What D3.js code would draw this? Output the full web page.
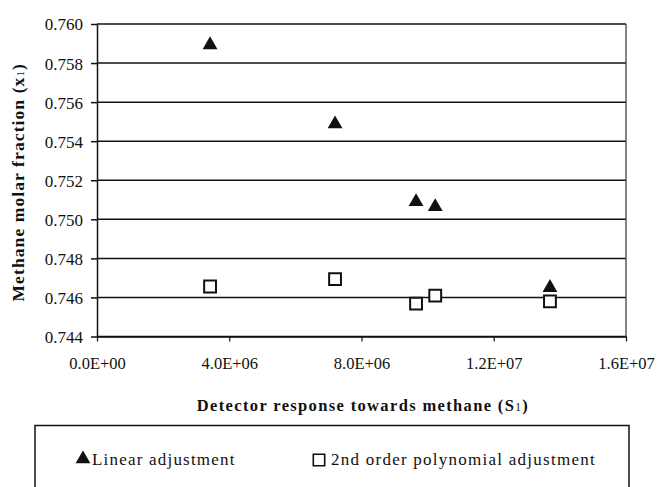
<!DOCTYPE html>
<html><head><meta charset="utf-8">
<script src="https://cdn.jsdelivr.net/npm/d3@7"></script>
<style>body{margin:0;background:#fff}svg{display:block}text{font-family:"Liberation Serif","Times New Roman",serif;fill:#111}</style>
</head><body>
<script>
const responses = [3.42e6, 7.2e6, 9.65e6, 1.023e7, 1.37e7];
const linearAdj = [0.75893, 0.75488, 0.7509, 0.75064, 0.7465];
const polyAdj = [0.74656, 0.74694, 0.74568, 0.74609, 0.7458];
const xTicks = [0, 4e6, 8e6, 1.2e7, 1.6e7];
const xTickLabels = ["0.0E+00", "4.0E+06", "8.0E+06", "1.2E+07", "1.6E+07"];
const yTicks = [0.744, 0.746, 0.748, 0.750, 0.752, 0.754, 0.756, 0.758, 0.760];
const seriesNames = ["Linear adjustment", "2nd order polynomial adjustment"];

const W = 658, H = 487;
const m = {l: 97, r: 626, t: 24, b: 336.5};
const svg = d3.select("body").append("svg").attr("width", W).attr("height", H);
const x = d3.scaleLinear().domain([0, 1.6e7]).range([m.l, m.r]);
const y = d3.scaleLinear().domain([0.744, 0.760]).range([m.b, m.t]);

// gridlines
svg.append("g").selectAll("line").data(yTicks).join("line")
  .attr("x1", m.l).attr("x2", m.r).attr("y1", d => y(d)).attr("y2", d => y(d))
  .attr("stroke", "#111").attr("stroke-width", 1.5);
// right border
svg.append("line").attr("x1", m.r).attr("x2", m.r).attr("y1", m.t).attr("y2", m.b)
  .attr("stroke", "#333").attr("stroke-width", 1.2);

// y axis
const yAxis = d3.axisLeft(y).tickValues(yTicks).tickFormat(d3.format(".3f")).tickSize(6).tickSizeOuter(0);
const gy = svg.append("g").attr("transform", `translate(${m.l},0)`).call(yAxis);
gy.select(".domain").attr("stroke", "#111").attr("stroke-width", 1.5);
gy.selectAll(".tick line").attr("stroke", "#111").attr("stroke-width", 1.5);
gy.selectAll(".tick text").attr("font-size", 17).attr("x", -14).attr("dy", "0.35em")
  .style("font-family", '"Liberation Serif",serif').attr("fill", "#111");

// x axis
const xAxis = d3.axisBottom(x).tickValues(xTicks).tickFormat((d, i) => xTickLabels[i]).tickSize(5).tickSizeOuter(0);
const gx = svg.append("g").attr("transform", `translate(0,${m.b})`).call(xAxis);
gx.select(".domain").attr("stroke", "#111").attr("stroke-width", 1.5);
gx.selectAll(".tick line").attr("stroke", "#111").attr("stroke-width", 1.2);
gx.selectAll(".tick text").attr("font-size", 16.5).attr("y", 21).attr("dy", "0.71em")
  .style("font-family", '"Liberation Serif",serif').attr("fill", "#111");

// axis titles
const yt = svg.append("text").attr("transform", `translate(24,${(m.t + m.b) / 2 + 2}) rotate(-90)`)
  .attr("text-anchor", "middle").attr("font-size", 17.5).attr("font-weight", "bold").attr("letter-spacing", 1.1);
yt.append("tspan").text("Methane molar fraction (x");
yt.append("tspan").attr("font-size", 11).attr("font-weight", "normal").text("1");
yt.append("tspan").text(")");

const xt = svg.append("text").attr("x", 363).attr("y", 411)
  .attr("text-anchor", "middle").attr("font-size", 16.5).attr("font-weight", "bold").attr("letter-spacing", 1.35);
xt.append("tspan").text("Detector response towards methane (S");
xt.append("tspan").attr("font-size", 11.5).attr("font-weight", "normal").text("1");
xt.append("tspan").text(")");

const tri = d3.symbol().type(d3.symbolTriangle).size(95);
const sq = d3.symbol().type(d3.symbolSquare).size(140);

// series
svg.append("g").selectAll("path").data(responses).join("path")
  .attr("d", tri).attr("transform", (d, i) => `translate(${x(d)},${y(linearAdj[i])})`)
  .attr("fill", "#111");
svg.append("g").selectAll("path").data(responses).join("path")
  .attr("d", sq).attr("transform", (d, i) => `translate(${x(d)},${y(polyAdj[i])})`)
  .attr("fill", "#fff").attr("stroke", "#111").attr("stroke-width", 2);

// legend
svg.append("rect").attr("x", 35).attr("y", 425.5).attr("width", 594).attr("height", 80)
  .attr("fill", "none").attr("stroke", "#111").attr("stroke-width", 1.5);
svg.append("path").attr("d", tri).attr("transform", "translate(83,459)").attr("fill", "#111");
svg.append("text").attr("x", 92).attr("y", 465).attr("font-size", 17).attr("letter-spacing", 1.2).text(seriesNames[0]);
svg.append("path").attr("d", d3.symbol().type(d3.symbolSquare).size(130)).attr("transform", "translate(319,460)")
  .attr("fill", "#fff").attr("stroke", "#111").attr("stroke-width", 1.6);
svg.append("text").attr("x", 331).attr("y", 465).attr("font-size", 17).attr("letter-spacing", 1.25).text(seriesNames[1]);
</script>
</body></html>
